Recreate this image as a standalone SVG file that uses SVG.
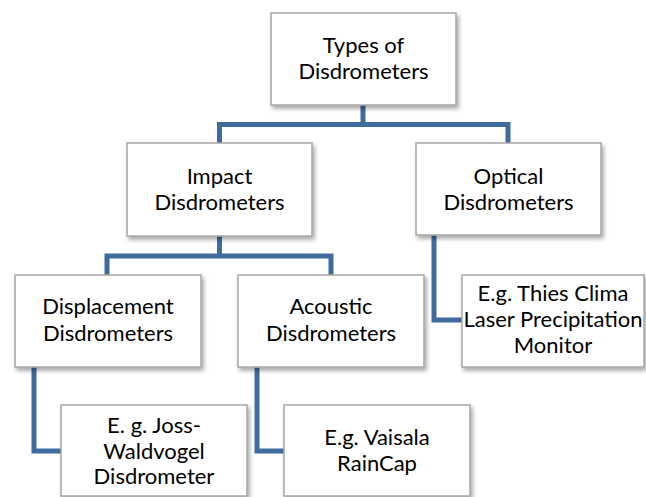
<svg xmlns="http://www.w3.org/2000/svg" width="646" height="497" viewBox="0 0 646 497">
<defs>
<filter id="sh" x="-10%" y="-10%" width="125%" height="130%">
<feDropShadow dx="2" dy="3" stdDeviation="2" flood-color="#000" flood-opacity="0.35"/>
</filter>
<style>
.box{fill:#fff;stroke:#a6a6a6;stroke-width:1.5;filter:url(#sh)}
.t{font-family:Lato,"Liberation Sans",sans-serif;font-size:22px;fill:#000;text-anchor:middle}
.c{fill:none;stroke:#3f6b9f;stroke-width:5;stroke-linejoin:miter}
</style>
</defs>
<rect width="646" height="497" fill="#fff"/>
<g id="connectors">
<path class="c" d="M363,105 V124.5 M219.5,143 V124.5 H508 V143"/>
<path class="c" d="M219.5,236 V256 M107,275 V256 H331 V275"/>
<path class="c" d="M34,367 V451 H61"/>
<path class="c" d="M257,367 V451 H284"/>
<path class="c" d="M434,235 V320 H462"/>
</g>
<g id="types">
<rect class="box" x="271" y="13" width="185" height="92"/>
<text class="t" x="363.5" y="53">Types of</text>
<text class="t" x="363.5" y="79">Disdrometers</text>
</g>
<g id="impact">
<rect class="box" x="127" y="143" width="185" height="93"/>
<text class="t" x="219.5" y="184">Impact</text>
<text class="t" x="219.5" y="210">Disdrometers</text>
</g>
<g id="optical">
<rect class="box" x="416" y="143" width="185" height="92"/>
<text class="t" x="508.5" y="184">Optical</text>
<text class="t" x="508.5" y="210">Disdrometers</text>
</g>
<g id="displacement">
<rect class="box" x="15" y="275" width="186" height="92"/>
<text class="t" x="108" y="314">Displacement</text>
<text class="t" x="108" y="341">Disdrometers</text>
</g>
<g id="acoustic">
<rect class="box" x="238" y="275" width="186" height="92"/>
<text class="t" x="331" y="314">Acoustic</text>
<text class="t" x="331" y="341">Disdrometers</text>
</g>
<g id="thies">
<rect class="box" x="462" y="275" width="182" height="92"/>
<text class="t" x="553" y="301">E.g. Thies Clima</text>
<text class="t" x="553" y="327">Laser Precipitation</text>
<text class="t" x="553" y="353">Monitor</text>
</g>
<g id="joss">
<rect class="box" x="61" y="405" width="186" height="91"/>
<text class="t" x="154" y="433">E. g. Joss-</text>
<text class="t" x="154" y="458.5">Waldvogel</text>
<text class="t" x="154" y="484">Disdrometer</text>
</g>
<g id="vaisala">
<rect class="box" x="284" y="405" width="186" height="91"/>
<text class="t" x="377" y="445">E.g. Vaisala</text>
<text class="t" x="377" y="471">RainCap</text>
</g>
</svg>
